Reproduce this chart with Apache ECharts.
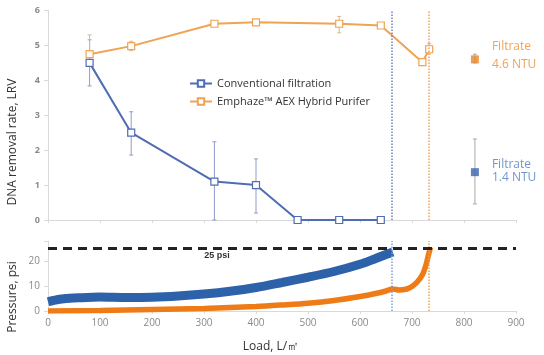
<!DOCTYPE html>
<html><head><meta charset="utf-8">
<script src="https://cdn.jsdelivr.net/npm/echarts@6/dist/echarts.min.js"></script>
<style>html,body{margin:0;padding:0;background:#fff}#c{width:544px;height:355px}</style>
</head><body><div id="c"></div>
<script>
// ---- data ----
const xTicks = [0,100,200,300,400,500,600,700,800,900];
const convLoad = [80,160,320,400,480,560,640];
const convLRV  = [4.5,2.5,1.1,1.0,0,0,0];
const convErrLoad = [80,160,320,400];
const convErrLow  = [3.84,1.86,0,0.2];
const convErrHigh = [5.16,3.1,2.24,1.75];
const emphLoad = [80,160,320,400,560,640,720,733];
const emphLRV  = [4.75,4.98,5.62,5.66,5.62,5.57,4.52,4.89];
const emphErrLoad = [80,160,560,733];
const emphErrLow  = [4.55,4.85,5.36,4.75];
const emphErrHigh = [5.3,5.12,5.83,5.05];
const filtLoad = 821;
const filtOrange = [4.6,4.5,4.75];   // value, low, high
const filtBlue   = [1.37,0.46,2.32];
const endConv = 662;
const endEmph = 733;
const limitPsi = 25;
const pConvLoad = [0,10,30,60,100,150,200,250,300,350,400,450,500,550,600,630,650,663];
const pConvPsi  = [3.7,4.2,4.9,5.3,5.6,5.4,5.5,6.0,6.8,7.9,9.4,11.4,13.5,15.8,18.7,21.0,22.6,23.6];
const pEmphLoad = [0,100,200,300,400,450,500,550,600,630,650,663,675,690,700,710,720,727,733,736];
const pEmphPsi  = [0.0,0.2,0.6,1.0,1.8,2.4,3.1,4.2,5.8,7.0,8.0,8.8,8.4,8.8,9.8,11.6,14.5,18.5,23.5,25.5];

const zip = (a,b)=>a.map((v,i)=>[v,b[i]]);
const zip3 = (a,b,c)=>a.map((v,i)=>[v,b[i],c[i]]);
const FONT = 'Open Sans';
const C_BLUE = '#4f6db3', C_ORANGE = '#f0a352';

function errRender(color){
  return function(params, api){
    const x = api.value(0);
    const lo = api.coord([x, api.value(1)]);
    const hi = api.coord([x, api.value(2)]);
    const w = 2;
    const st = {stroke: color, lineWidth: 1};
    return {type:'group', children:[
      {type:'line', shape:{x1:lo[0],y1:lo[1],x2:hi[0],y2:hi[1]}, style:st},
      {type:'line', shape:{x1:lo[0]-w,y1:lo[1],x2:lo[0]+w,y2:lo[1]}, style:st},
      {type:'line', shape:{x1:hi[0]-w,y1:hi[1],x2:hi[0]+w,y2:hi[1]}, style:st}
    ]};
  };
}

const axisGray = '#d9d9d9';
const chart = echarts.init(document.getElementById('c'));
chart.setOption({
  animation:false,
  textStyle:{fontFamily:FONT},
  grid:[
    {left:48, right:28, top:10.5, bottom:135},
    {left:48, right:28, top:241, bottom:44}
  ],
  legend:{
    data:['Conventional filtration','Emphaze™ AEX Hybrid Purifer'],
    orient:'vertical', left:184, top:73, itemGap:7, itemWidth:22, itemHeight:8,
    textStyle:{fontFamily:FONT, fontSize:11, color:'#333'}
  },
  xAxis:[
    {gridIndex:0, type:'value', min:0, max:900, interval:100,
     axisLine:{lineStyle:{color:axisGray}}, axisTick:{length:3, lineStyle:{color:axisGray}},
     axisLabel:{show:false}, splitLine:{show:false}},
    {gridIndex:1, type:'value', min:0, max:900, interval:100,
     axisLine:{lineStyle:{color:axisGray}}, axisTick:{length:3, lineStyle:{color:axisGray}},
     axisLabel:{color:'#8a8a8a', fontSize:10, margin:7, fontFamily:FONT,
       formatter:v=>xTicks.includes(v)?String(v):''},
     splitLine:{show:false}}
  ],
  yAxis:[
    {gridIndex:0, type:'value', min:0, max:6, interval:1,
     axisLine:{show:true, lineStyle:{color:axisGray}}, axisTick:{show:true, length:4, lineStyle:{color:axisGray}},
     axisLabel:{color:'#8a8a8a', fontSize:9, margin:8, fontWeight:'bold'}, splitLine:{show:false}},
    {gridIndex:1, type:'value', min:0, max:28, interval:10,
     axisLine:{show:true, lineStyle:{color:axisGray}}, axisTick:{show:true, length:4, lineStyle:{color:axisGray}},
     axisLabel:{color:'#8a8a8a', fontSize:10, margin:8, formatter:v=>(v%10===0?String(v):'')},
     splitLine:{show:false}}
  ],
  graphic:[
    {type:'text', x:13, y:142, rotation:Math.PI/2,
     style:{text:'DNA removal rate, LRV', x:0, y:0, textAlign:'center', textVerticalAlign:'middle',
       font:'12px "Open Sans"', fill:'#333'}},
    {type:'text', x:13, y:297, rotation:Math.PI/2,
     style:{text:'Pressure, psi', x:0, y:0, textAlign:'center', textVerticalAlign:'middle',
       font:'12px "Open Sans"', fill:'#333'}},
    {type:'text', x:271, y:347,
     style:{text:'Load, L/㎡', x:0, y:0, textAlign:'center', textVerticalAlign:'middle',
       font:'12px "Open Sans"', fill:'#333'}},
    {type:'text', x:217, y:256,
     style:{text:'25 psi', x:0, y:0, textAlign:'center', textVerticalAlign:'middle',
       font:'bold 9px "Liberation Sans"', fill:'#333'}}
  ],
  series:[
    {type:'custom', xAxisIndex:0, yAxisIndex:0, renderItem:errRender('#8f9bcc'),
     data:zip3(convErrLoad,convErrLow,convErrHigh), z:1, silent:true},
    {type:'custom', xAxisIndex:0, yAxisIndex:0, renderItem:errRender('#d9b891'),
     data:zip3(emphErrLoad,emphErrLow,emphErrHigh), z:1, silent:true},
    {name:'Conventional filtration', type:'line', xAxisIndex:0, yAxisIndex:0,
     data:zip(convLoad,convLRV), symbol:'rect', symbolSize:7,
     lineStyle:{color:C_BLUE, width:2}, itemStyle:{color:'#fff', borderColor:C_BLUE, borderWidth:1.2}, z:3,
     markLine:{silent:true, symbol:'none', label:{show:false},
       lineStyle:{color:'#6d80c0', type:'dotted', width:1.5}, data:[{xAxis:endConv}]}},
    {name:'Emphaze™ AEX Hybrid Purifer', type:'line', xAxisIndex:0, yAxisIndex:0,
     data:zip(emphLoad,emphLRV), symbol:'rect', symbolSize:7,
     lineStyle:{color:C_ORANGE, width:2}, itemStyle:{color:'#fff', borderColor:C_ORANGE, borderWidth:1.2}, z:3,
     markLine:{silent:true, symbol:'none', label:{show:false},
       lineStyle:{color:'#eba560', type:'dotted', width:1.5}, data:[{xAxis:endEmph}]}},
    {type:'custom', xAxisIndex:0, yAxisIndex:0, renderItem:errRender('#a8a8a8'),
     data:[[filtLoad,filtOrange[1],filtOrange[2]],[filtLoad,filtBlue[1],filtBlue[2]]], z:1, silent:true},
    {type:'scatter', xAxisIndex:0, yAxisIndex:0, symbol:'rect', symbolSize:8, z:4,
     data:[
       {value:[filtLoad,filtOrange[0]], itemStyle:{color:'#e8862a'},
        label:{show:true, position:'right', distance:13, offset:[0,-4], formatter:'Filtrate\n4.6 NTU',
          color:'#f08a2a', fontSize:12, lineHeight:18, fontFamily:FONT}},
       {value:[filtLoad,filtBlue[0]], itemStyle:{color:'#3b63ad'},
        label:{show:true, position:'right', distance:13, offset:[0,-1], formatter:'Filtrate\n1.4 NTU',
          color:'#4a7cc0', fontSize:12, lineHeight:13.5, fontFamily:FONT}}
     ]},
    {type:'line', xAxisIndex:1, yAxisIndex:1, data:zip(pEmphLoad,pEmphPsi), showSymbol:false, smooth:0.3,
     lineStyle:{color:'#ef7b17', width:5.5, cap:'butt'}, z:2,
     markLine:{silent:true, symbol:'none', label:{show:false},
       lineStyle:{color:'#f5a050', type:'dotted', width:1.5}, data:[{xAxis:endEmph}]}},
    {type:'line', xAxisIndex:1, yAxisIndex:1, data:zip(pConvLoad,pConvPsi), showSymbol:false, smooth:0.3,
     lineStyle:{color:'#2d61aa', width:9, cap:'butt'}, z:3,
     markLine:{silent:true, symbol:'none', label:{show:false},
       lineStyle:{color:'#7b9ee0', type:'dotted', width:1.5}, data:[{xAxis:endConv}]}},
    {type:'line', xAxisIndex:1, yAxisIndex:1, data:[], z:5,
     markLine:{silent:true, symbol:'none', label:{show:false},
       lineStyle:{color:'#222', type:[9,6], width:3}, data:[{yAxis:limitPsi}]}}
  ]
});
</script></body></html>
